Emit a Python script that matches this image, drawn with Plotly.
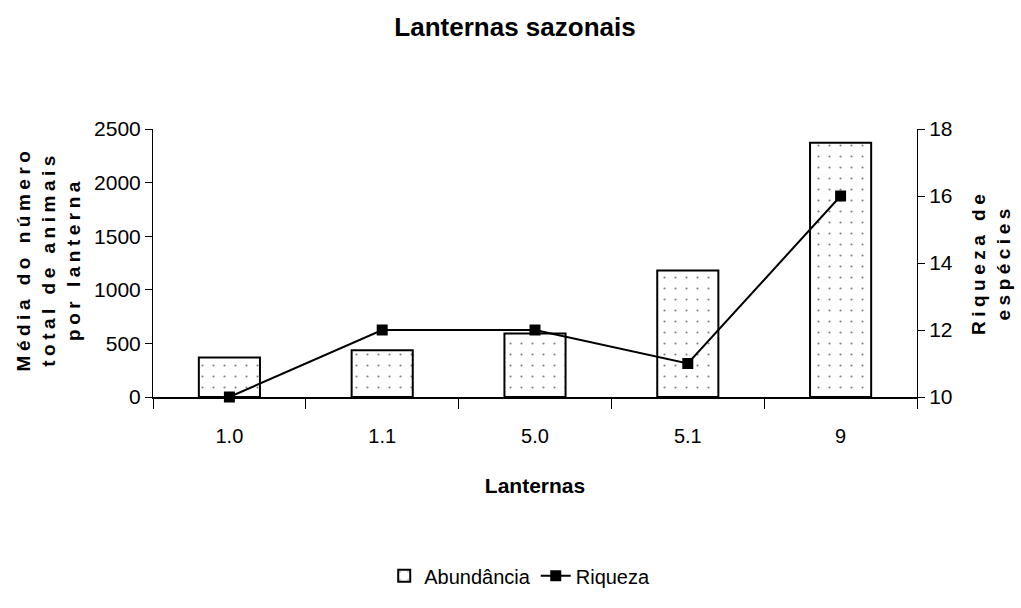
import plotly.graph_objects as go

# Lantern categories and measured values
lanternas = ["1.0", "1.1", "5.0", "5.1", "9"]
abundancia = [368, 437, 592, 1180, 2372]
riqueza = [10, 12, 12, 11, 16]

FONT = "Liberation Sans, Arial, sans-serif"

fig = go.Figure()

fig.add_trace(go.Bar(
    x=lanternas,
    y=abundancia,
    name="Abundância",
    width=0.4,
    marker=dict(
        color="white",
        line=dict(color="black", width=2),
        pattern=dict(shape=".", fgcolor="black", bgcolor="white",
                     size=11, solidity=0.03),
    ),
    yaxis="y",
))

fig.add_trace(go.Scatter(
    x=lanternas,
    y=riqueza,
    name="Riqueza",
    mode="lines+markers",
    line=dict(color="black", width=2),
    marker=dict(symbol="square", size=11, color="black"),
    cliponaxis=False,
    yaxis="y2",
))

fig.update_layout(
    width=1021,
    height=608,
    margin=dict(l=153, r=104, t=129, b=200),
    paper_bgcolor="white",
    plot_bgcolor="white",
    font=dict(family=FONT, size=20, color="black"),
    title=dict(
        text="<b>Lanternas sazonais</b>",
        x=515 / 1021, xanchor="center",
        y=1 - 27 / 608, yanchor="middle",
        font=dict(family=FONT, size=26, color="black"),
    ),
    xaxis=dict(
        type="category",
        showline=True, linecolor="black", linewidth=1.5,
        ticks="outside", tickson="boundaries", ticklen=10, tickcolor="black",
        ticklabelstandoff=20,
        tickfont=dict(size=20),
        showgrid=False,
        title=dict(text="<b>Lanternas</b>", font=dict(size=21), standoff=33),
    ),
    yaxis=dict(
        range=[0, 2500], dtick=500,
        showline=True, linecolor="black", linewidth=1,
        ticks="outside", ticklen=7, tickcolor="black",
        tickfont=dict(size=21),
        showgrid=False, zeroline=False,
    ),
    yaxis2=dict(
        range=[10, 18], dtick=2,
        overlaying="y", side="right",
        showline=True, linecolor="black", linewidth=1,
        ticks="outside", ticklen=7, tickcolor="black",
        tickfont=dict(size=21),
        showgrid=False, zeroline=False,
    ),
    legend=dict(
        orientation="h",
        x=0.48, xanchor="center",
        y=-0.667, yanchor="middle",
        font=dict(size=20),
    ),
    showlegend=True,
)

# Rotated axis titles placed beside each value axis
fig.add_annotation(
    text="<b>Média do número<br>total de animais<br>por lanterna</b>",
    xref="paper", yref="paper", x=(48 - 153) / 764, y=(408 - 265) / 279,
    xanchor="center", yanchor="middle",
    textangle=-90, showarrow=False,
    font=dict(family=FONT, size=19, color="black"),
)
fig.add_annotation(
    text="<b>Riqueza de<br>espécies</b>",
    xref="paper", yref="paper", x=(991 - 153) / 764, y=(408 - 268) / 279,
    xanchor="center", yanchor="middle",
    textangle=-90, showarrow=False,
    font=dict(family=FONT, size=19, color="black"),
)

# Spread the letters of the rotated axis titles
spacing_js = """
var gd = document.getElementById('{plot_id}');
gd.querySelectorAll('.annotation-text').forEach(function (t) {
    t.style.letterSpacing = '4.5px';
});
"""

fig.write_html("out.html", post_script=spacing_js)
